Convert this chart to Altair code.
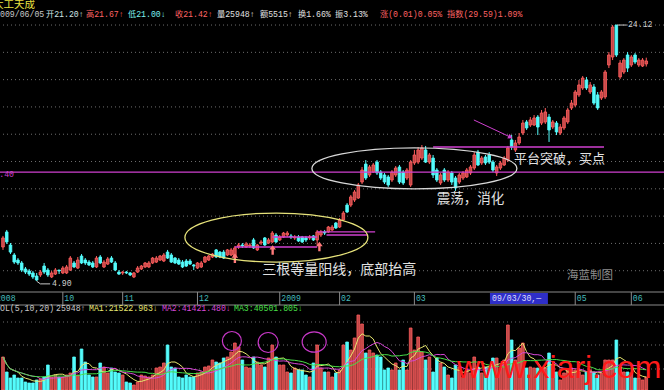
import altair as alt
import pandas as pd

# ---------------- data ----------------
STOCK = "太工天成"
DATE = "2009/06/05"
QUOTE = ["开21.20↑", "高21.67↑", "低21.00↓", "收21.42↑", "量25948↑", "额5515↑",
         "换1.66%", "振3.13%", "涨(0.01)0.05%", "指数(29.59)1.09%"]
VOL_HEAD = ["VOL(5,10,20)", "25948↑", "MA1:21522.963↓", "MA2:41421.480↓", "MA3:40501.805↓"]

OPEN = [7.45, 8.58, 7.60, 6.85, 6.47, 6.25, 5.80, 5.65, 5.50, 5.27,
        5.35, 6.02, 5.72, 5.20, 5.42, 5.72, 5.50, 5.50, 5.72, 6.25,
        5.87, 6.77, 6.47, 6.32, 6.25, 5.95, 6.70, 5.95, 6.17, 6.62,
        6.25, 5.57, 5.50, 5.57, 5.50, 5.20, 5.57, 5.80, 5.95, 5.95,
        6.25, 6.32, 6.47, 6.40, 7.07, 6.85, 6.62, 6.47, 6.32, 6.40,
        6.40, 6.10, 5.87, 5.95, 6.32, 6.47, 6.70, 7.23, 7.07, 7.07,
        6.85, 6.85, 6.77, 7.45, 7.60, 7.45, 7.53, 7.98, 7.23, 7.75,
        8.13, 7.75, 7.83, 8.35, 7.98, 8.20, 8.35, 8.28, 8.13, 8.20,
        8.20, 8.13, 8.13, 8.28, 7.98, 8.35, 8.58, 8.58, 8.73, 9.25,
        8.95, 9.48, 10.60, 10.60, 10.98, 11.13, 12.33, 13.68, 12.86, 13.08,
        13.83, 13.08, 12.86, 12.71, 12.48, 12.86, 13.46, 13.08, 12.63, 12.11,
        13.76, 13.83, 14.13, 14.74, 13.83, 14.13, 13.23, 12.26, 13.23, 12.48,
        13.01, 12.63, 12.33, 12.63, 12.71, 13.01, 13.38, 14.58, 13.76, 14.21,
        14.36, 13.83, 13.01, 13.38, 13.61, 13.98, 15.49, 14.74, 15.26, 16.01,
        16.84, 16.61, 16.61, 17.21, 16.76, 16.84, 17.21, 16.46, 16.76, 16.01,
        16.39, 16.84, 17.89, 18.11, 18.87, 19.39, 19.99, 19.09, 19.47, 18.87,
        18.64, 18.72, 21.12, 21.72, 24.12, 20.22, 20.59, 21.87, 21.12, 21.87,
        21.12, 21.04, 21.20]
HIGH = [8.28, 8.73, 7.75, 7.00, 6.62, 6.40, 5.95, 5.80, 5.65, 5.50,
        5.72, 6.25, 5.87, 5.65, 5.87, 5.72, 6.02, 6.10, 6.77, 6.40,
        6.70, 6.92, 6.62, 6.47, 6.40, 6.77, 6.85, 6.47, 6.70, 6.77,
        6.40, 5.72, 5.65, 5.65, 5.57, 5.57, 6.02, 6.10, 6.32, 6.40,
        6.70, 6.77, 6.85, 7.00, 7.23, 7.00, 6.70, 6.62, 6.47, 6.55,
        6.55, 6.17, 6.32, 6.40, 6.77, 6.85, 7.00, 7.30, 7.15, 7.23,
        7.30, 7.38, 7.53, 7.75, 7.75, 7.83, 7.75, 8.13, 7.68, 7.98,
        8.20, 8.13, 8.65, 8.50, 8.35, 8.58, 8.65, 8.43, 8.35, 8.35,
        8.28, 8.28, 8.35, 8.35, 8.73, 8.73, 8.73, 9.03, 9.10, 9.33,
        9.63, 10.15, 10.75, 11.36, 11.73, 12.26, 13.46, 13.98, 13.61, 13.76,
        13.98, 13.23, 13.01, 12.86, 13.23, 13.53, 13.61, 13.23, 13.38, 13.98,
        14.74, 14.96, 15.11, 15.04, 14.51, 14.36, 13.38, 13.01, 13.38, 13.23,
        13.16, 12.78, 13.01, 13.16, 13.38, 13.61, 14.58, 14.74, 14.28, 14.36,
        14.58, 13.98, 13.61, 13.91, 14.28, 15.04, 15.86, 15.49, 16.01, 16.99,
        16.99, 17.21, 17.36, 17.36, 17.74, 17.89, 17.44, 16.99, 16.91, 16.69,
        17.29, 17.89, 18.49, 19.24, 19.99, 20.29, 20.22, 19.84, 19.69, 19.09,
        19.24, 20.74, 22.09, 24.12, 24.12, 21.49, 21.64, 22.09, 21.87, 22.02,
        21.64, 21.64, 21.67]
LOW = [7.23, 7.68, 6.92, 6.17, 6.10, 5.57, 5.42, 5.27, 5.05, 4.90,
       5.20, 5.42, 5.20, 5.12, 5.35, 5.42, 5.42, 5.42, 5.65, 5.87,
       5.80, 6.17, 6.10, 6.02, 5.87, 5.87, 6.17, 5.87, 6.10, 6.25,
       5.65, 5.35, 5.35, 5.42, 5.27, 5.12, 5.50, 5.72, 5.87, 5.87,
       6.17, 6.25, 6.40, 6.32, 6.55, 6.25, 6.17, 6.10, 5.87, 5.95,
       6.10, 5.72, 5.80, 5.87, 6.25, 6.40, 6.62, 6.62, 6.62, 6.55,
       6.77, 6.77, 6.62, 7.30, 7.38, 7.38, 7.38, 7.30, 7.15, 7.60,
       7.53, 7.68, 7.75, 7.75, 7.90, 8.13, 8.20, 8.05, 7.98, 7.83,
       7.75, 7.83, 7.98, 7.90, 7.60, 8.20, 8.35, 8.50, 8.65, 8.80,
       8.88, 9.40, 10.00, 10.45, 10.83, 11.06, 12.18, 12.48, 12.71, 13.01,
       12.86, 12.48, 12.18, 11.96, 12.33, 12.71, 12.18, 12.11, 12.48, 11.96,
       13.61, 13.68, 13.98, 13.76, 13.68, 12.63, 12.33, 12.11, 12.33, 12.33,
       12.11, 11.66, 12.18, 12.48, 12.63, 12.86, 13.23, 13.53, 13.61, 13.61,
       13.68, 13.08, 12.78, 13.23, 13.53, 13.83, 14.74, 14.58, 15.11, 15.86,
       16.24, 16.46, 16.54, 15.86, 16.61, 16.69, 15.34, 16.31, 15.86, 15.86,
       16.24, 16.69, 17.74, 17.96, 18.72, 19.24, 19.24, 18.94, 18.11, 17.74,
       18.49, 18.57, 20.89, 21.49, 21.72, 20.07, 20.44, 20.59, 20.97, 21.19,
       20.97, 20.97, 21.00]
CLOSE = [8.13, 7.83, 7.07, 6.32, 6.25, 5.72, 5.57, 5.42, 5.20, 4.97,
         5.57, 5.57, 5.35, 5.50, 5.72, 5.65, 5.87, 5.95, 6.62, 5.95,
         6.47, 6.25, 6.25, 6.10, 5.95, 6.62, 6.25, 6.32, 6.55, 6.32,
         5.72, 5.42, 5.57, 5.50, 5.35, 5.50, 5.87, 6.02, 6.25, 6.25,
         6.62, 6.62, 6.77, 6.85, 6.62, 6.32, 6.25, 6.17, 5.95, 6.02,
         6.17, 6.02, 6.25, 6.25, 6.70, 6.77, 6.92, 6.70, 6.70, 6.62,
         7.23, 7.23, 7.38, 7.60, 7.53, 7.68, 7.60, 7.38, 7.60, 7.83,
         7.60, 7.98, 8.50, 7.83, 8.20, 8.50, 8.50, 8.20, 8.20, 7.90,
         7.83, 7.98, 8.20, 7.98, 8.58, 8.58, 8.50, 8.95, 8.95, 8.88,
         9.48, 10.00, 10.08, 11.21, 11.58, 12.11, 13.23, 12.63, 13.46, 13.61,
         13.01, 12.63, 12.33, 12.11, 13.08, 13.38, 12.33, 12.26, 13.23, 13.83,
         14.36, 14.74, 14.89, 13.83, 14.36, 12.86, 12.48, 12.86, 12.48, 13.08,
         12.33, 11.88, 12.86, 13.01, 13.23, 13.46, 14.36, 13.61, 14.13, 13.76,
         13.83, 13.23, 13.46, 13.76, 14.13, 14.89, 14.96, 15.26, 15.71, 16.76,
         16.39, 16.99, 17.14, 16.46, 17.51, 17.59, 16.24, 16.84, 16.09, 16.46,
         17.14, 17.74, 18.26, 19.09, 19.62, 20.14, 19.39, 19.62, 18.26, 17.89,
         19.09, 20.59, 21.87, 23.97, 21.87, 21.27, 21.49, 20.89, 21.72, 21.34,
         21.49, 21.49, 21.42]
VOLUME = [66000, 36000, 24000, 30000, 24000, 24000, 16000, 14000, 14000, 20000,
          22000, 26000, 50000, 26000, 30000, 26000, 26000, 30000, 34000, 66000,
          30000, 82000, 56000, 30000, 26000, 26000, 54000, 46000, 34000, 44000,
          36000, 34000, 30000, 16000, 14000, 10000, 16000, 30000, 28000, 26000,
          30000, 44000, 46000, 54000, 90000, 46000, 44000, 26000, 24000, 30000,
          26000, 26000, 34000, 36000, 46000, 48000, 60000, 56000, 54000, 64000,
          66000, 76000, 94000, 86000, 60000, 46000, 44000, 66000, 56000, 50000,
          46000, 64000, 90000, 66000, 50000, 50000, 36000, 34000, 44000, 40000,
          40000, 30000, 26000, 54000, 90000, 44000, 36000, 36000, 26000, 34000,
          40000, 90000, 96000, 80000, 104000, 150000, 132000, 74000, 80000, 74000,
          70000, 66000, 40000, 44000, 40000, 54000, 40000, 60000, 40000, 124000,
          80000, 106000, 76000, 60000, 66000, 36000, 64000, 54000, 46000, 30000,
          24000, 50000, 46000, 26000, 40000, 34000, 66000, 46000, 34000, 46000,
          46000, 64000, 64000, 44000, 60000, 130000, 100000, 60000, 84000, 94000,
          44000, 46000, 44000, 44000, 44000, 44000, 74000, 50000, 36000, 20000,
          34000, 40000, 44000, 40000, 36000, 30000, 36000, 40000, 36000, 30000,
          34000, 60000, 60000, 60000, 100000, 46000, 36000, 36000, 34000, 24000,
          24000, 20000, 25948]

MONTH_POS = [-2.3, 16, 32, 52, 74, 90, 110, 153, 168]
MONTH_LABEL = ["2008", "10", "11", "12", "2009", "02", "03", "05", "06"]
CURSOR_LABEL = "09/03/30,—"
CURSOR_RANGE = [130.2, 145.7]

GRID_PRICE = [24.12, 22.07, 20.02, 17.97, 15.92, 13.87, 11.82, 9.77, 7.72, 5.67]
GRID_VOL = [136000, 90000, 42000]

LINE_PRICE = 13.08
LINE_LABEL = "13.40"
HIGH_LABEL = "24.12"
LOW_LABEL = "4.90"

# magenta short lines: start index, end index, price
SEG_I0 = [62, 72, 84, 86.5, 115]
SEG_I1 = [84, 84, 99.5, 97.5, 160.7]
SEG_P = [7.45, 8.20, 8.58, 8.35, 14.96]
DIAG_I = [125.9, 135.7]
DIAG_P = [16.99, 15.70]
UP_ARROW_I = [62, 72.1, 84.6]
UP_ARROW_P = [6.60, 7.23, 7.48]

NOTE_TEXT = ["三根等量阳线，底部抬高", "震荡，消化", "平台突破，买点"]
NOTE_I = [69.3, 116.0, 136.6]
NOTE_P = [5.72, 11.06, 14.06]
STAMP = "海蓝制图"
SITE = "www.xiarj.com"

# ---------------- styling / layout ----------------
W, H = 664, 390
xs = alt.Scale(domain=[-0.802, 176.738], nice=False, zero=False)
ps = alt.Scale(domain=[-3.289, 26.0], nice=False, zero=False)
vs = alt.Scale(domain=[0, 780000], nice=False, zero=False)

RED_F, RED_S, CYAN = "#c04848", "#ff5c5c", "#54fcfc"
MAG = "#d040d0"
MONO = "Liberation Mono, Noto Sans CJK SC"
CJK = "Noto Sans CJK SC"
HS = 8.2  # header font size

fill_sc = alt.Scale(domain=["up", "down"], range=[RED_F, CYAN])
stroke_sc = alt.Scale(domain=["up", "down"], range=[RED_S, CYAN])


def X(f):
    return alt.X(f, type="quantitative", scale=xs, axis=None)


def YP(f):
    return alt.Y(f, type="quantitative", scale=ps, axis=None)


def YV(f):
    return alt.Y(f, type="quantitative", scale=vs, axis=None)


def ellipse_path(r):
    k = 0.5523
    return (f"M-1,0C-1,{-k*r:.4f},{-k:.4f},{-r:.4f},0,{-r:.4f}"
            f"C{k:.4f},{-r:.4f},1,{-k*r:.4f},1,0"
            f"C1,{k*r:.4f},{k:.4f},{r:.4f},0,{r:.4f}"
            f"C{-k:.4f},{r:.4f},-1,{k*r:.4f},-1,0Z")


def ptext(text, x, y, color, size, font=MONO, align="left"):
    return alt.Chart(pd.DataFrame({"t": [text]})).mark_text(
        align=align, baseline="middle", font=font, fontSize=size, color=color
    ).encode(text="t:N", x=alt.value(x), y=alt.value(y))


N = len(CLOSE)
df = pd.DataFrame({"i": list(range(N)), "open": OPEN, "high": HIGH, "low": LOW,
                   "close": CLOSE, "vol": VOLUME})
df["dir"] = ["up" if c >= o else "down" for o, c in zip(OPEN, CLOSE)]

layers = []

# grids
layers.append(alt.Chart(pd.DataFrame({"p": GRID_PRICE})).mark_rule(
    color="#6e6e6e", strokeDash=[1, 3], strokeWidth=1).encode(y=YP("p")))
layers.append(alt.Chart(pd.DataFrame({"v": GRID_VOL})).mark_rule(
    color="#6e6e6e", strokeDash=[1, 3], strokeWidth=1).encode(y=YV("v")))

# candles
base = alt.Chart(df)
layers.append(base.mark_rule(strokeWidth=1).encode(
    x=X("i"), y=YP("low"), y2="high",
    stroke=alt.Stroke("dir:N", scale=stroke_sc, legend=None)))
layers.append(base.transform_calculate(
    x0="datum.i-0.34", x1="datum.i+0.34",
    bt="max(datum.open,datum.close)", bb="min(datum.open,datum.close)"
).mark_rect(strokeWidth=0.9).encode(
    x=X("x0"), x2="x1", y=YP("bt"), y2="bb",
    fill=alt.Fill("dir:N", scale=fill_sc, legend=None),
    stroke=alt.Stroke("dir:N", scale=stroke_sc, legend=None)))

# volume bars
layers.append(base.transform_calculate(
    x0="datum.i-0.36", x1="datum.i+0.36", z="0"
).mark_rect(strokeWidth=0.8).encode(
    x=X("x0"), x2="x1", y=YV("vol"), y2="z:Q",
    fill=alt.Fill("dir:N", scale=fill_sc, legend=None),
    stroke=alt.Stroke("dir:N", scale=stroke_sc, legend=None)))

# volume moving averages
for n, col in [(5, "#e8e870"), (10, "#d848d8"), (20, "#48e048")]:
    layers.append(base.transform_window(
        ma="mean(vol)", frame=[-(n - 1), 0], sort=[alt.SortField("i")]
    ).mark_line(color=col, strokeWidth=1).encode(x=X("i"), y=YV("ma")))

# magenta support line + label
layers.append(alt.Chart(pd.DataFrame({"p": [LINE_PRICE]})).mark_rule(
    color=MAG, strokeWidth=1.3).encode(y=YP("p")))
layers.append(ptext(LINE_LABEL, 14, 175, MAG, HS, align="right"))

# magenta short lines
layers.append(alt.Chart(pd.DataFrame({"a": SEG_I0, "b": SEG_I1, "p": SEG_P})).mark_rule(
    color=MAG, strokeWidth=1.3).encode(x=X("a"), x2="b", y=YP("p")))
layers.append(alt.Chart(pd.DataFrame({"i": DIAG_I, "p": DIAG_P})).mark_line(
    color=MAG, strokeWidth=1).encode(x=X("i"), y=YP("p")))
layers.append(alt.Chart(pd.DataFrame({"i": DIAG_I[-1:], "p": DIAG_P[-1:]})).mark_point(
    shape="triangle-right", angle=26, size=28, filled=True, color=MAG, opacity=1
).encode(x=X("i"), y=YP("p")))

# up arrows
arrow = "M0,-1L0.7,-0.1L0.25,-0.1L0.25,1L-0.25,1L-0.25,-0.1L-0.7,-0.1Z"
layers.append(alt.Chart(pd.DataFrame({"i": UP_ARROW_I, "p": UP_ARROW_P})).mark_point(
    shape=arrow, size=90, filled=True, color="#ff7a7a", opacity=1
).encode(x=X("i"), y=YP("p")))

# ellipses
layers.append(alt.Chart(pd.DataFrame({"i": [73.1], "p": [8.16]})).mark_point(
    shape=ellipse_path(0.268), size=183 ** 2, filled=False, color="#e6e27a",
    strokeWidth=1.3, opacity=1).encode(x=X("i"), y=YP("p")))
layers.append(alt.Chart(pd.DataFrame({"i": [110.0], "p": [13.35]})).mark_point(
    shape=ellipse_path(0.2), size=205 ** 2, filled=False, color="#d8d8d8",
    strokeWidth=1.3, opacity=1).encode(x=X("i"), y=YP("p")))
for ci, cv, d, r in [(61.2, 98000, 19, 1.0), (70.9, 95000, 20, 1.0), (83.2, 96000, 24, 0.85)]:
    layers.append(alt.Chart(pd.DataFrame({"i": [ci], "v": [cv]})).mark_point(
        shape=ellipse_path(r), size=d ** 2, filled=False, color="#c838c8",
        strokeWidth=1.2, opacity=1).encode(x=X("i"), y=YV("v")))

# high / low labels
layers.append(alt.Chart(pd.DataFrame({"i": [164.2, 166.8], "p": [24.12, 24.12]})).mark_line(
    color="#c8c8c8", strokeWidth=1).encode(x=X("i"), y=YP("p")))
layers.append(alt.Chart(pd.DataFrame({"i": [167.1], "p": [24.12], "t": [HIGH_LABEL]})).mark_text(
    align="left", baseline="middle", font=MONO, fontSize=HS, color="#d0d0d0"
).encode(x=X("i"), y=YP("p"), text="t:N"))
layers.append(alt.Chart(pd.DataFrame({"i": [9, 10.0, 12.6], "p": [4.88, 4.68, 4.68]})).mark_line(
    color="#c8c8c8", strokeWidth=1).encode(x=X("i"), y=YP("p")))
layers.append(alt.Chart(pd.DataFrame({"i": [13.1], "p": [4.66], "t": [LOW_LABEL]})).mark_text(
    align="left", baseline="middle", font=MONO, fontSize=HS, color="#d0d0d0"
).encode(x=X("i"), y=YP("p"), text="t:N"))

# annotation texts
note_sizes = [14, 13.5, 13]
for t, ii, pp, sz in zip(NOTE_TEXT, NOTE_I, NOTE_P, note_sizes):
    layers.append(alt.Chart(pd.DataFrame({"i": [ii], "p": [pp], "t": [t]})).mark_text(
        align="left", baseline="middle", font=CJK, fontSize=sz, color="#e2e2e2"
    ).encode(x=X("i"), y=YP("p"), text="t:N"))
layers.append(alt.Chart(pd.DataFrame({"i": [150.8], "p": [5.27], "t": [STAMP]})).mark_text(
    align="left", baseline="middle", font=CJK, fontSize=11.5, color="#8c8c8c"
).encode(x=X("i"), y=YP("p"), text="t:N"))

# month axis row
layers.append(alt.Chart(pd.DataFrame({"a": [0]})).mark_rule(color="#8a8a8a", strokeWidth=1).encode(
    y=alt.value(292)))
layers.append(alt.Chart(pd.DataFrame({"a": [0]})).mark_rule(color="#8a8a8a", strokeWidth=1).encode(
    y=alt.value(305)))
mdf = pd.DataFrame({"m": MONTH_POS, "t": MONTH_LABEL})
layers.append(alt.Chart(mdf).mark_rule(color="#8a8a8a", strokeWidth=1).encode(
    x=X("m"), y=alt.value(292), y2=alt.value(305)))
layers.append(alt.Chart(mdf).mark_text(
    align="left", baseline="middle", dx=1.5, font=MONO, fontSize=8.2, color="#46bcbc"
).encode(x=X("m"), y=alt.value(298.5), text="t:N"))
layers.append(alt.Chart(pd.DataFrame({"a": [CURSOR_RANGE[0]], "b": [CURSOR_RANGE[1]]})).mark_rect(
    color="#2e2ec8").encode(x=X("a"), x2="b", y=alt.value(293), y2=alt.value(304)))
layers.append(ptext(CURSOR_LABEL, 492, 298.5, "#dcdcff", 8.2))

# headers
layers.append(ptext(STOCK, -7, 4.5, "#e8e040", 10.5, font=CJK))
layers.append(ptext(DATE, -4.9, 15, "#c8c8c8", HS))
QUOTE_X = [46, 86, 128, 175, 217, 260, 298, 335, 380, 447]
QUOTE_C = ["#d0e4e4", "#ff6464", "#7cf0f0", "#ff6464", "#e0e0e0", "#e0e0e0",
           "#e0e0e0", "#e0e0e0", "#ff6464", "#ff6464"]
for t, x, c in zip(QUOTE, QUOTE_X, QUOTE_C):
    layers.append(ptext(t, x, 15, c, HS))
VH_X = [-4.9, 56, 89, 162, 234]
VH_C = ["#c8c8c8", "#c8c8c8", "#e8e870", "#d848d8", "#48e048"]
for t, x, c in zip(VOL_HEAD, VH_X, VH_C):
    layers.append(ptext(t, x, 309, c, HS))

# site watermark
layers.append(alt.Chart(pd.DataFrame({"i": [121.4], "v": [24000], "t": [SITE]})).mark_text(
    align="left", baseline="alphabetic", font="Liberation Sans", fontSize=32, color="#ff1a1a"
).encode(x=X("i"), y=YV("v"), text="t:N"))

chart = alt.layer(*layers).resolve_scale(y="independent").properties(
    width=W, height=H, background="black", padding=0,
    autosize=alt.AutoSizeParams(type="none")
).configure_view(stroke=None)

chart.save("out.html", embed_options={"renderer": "svg", "actions": False})
